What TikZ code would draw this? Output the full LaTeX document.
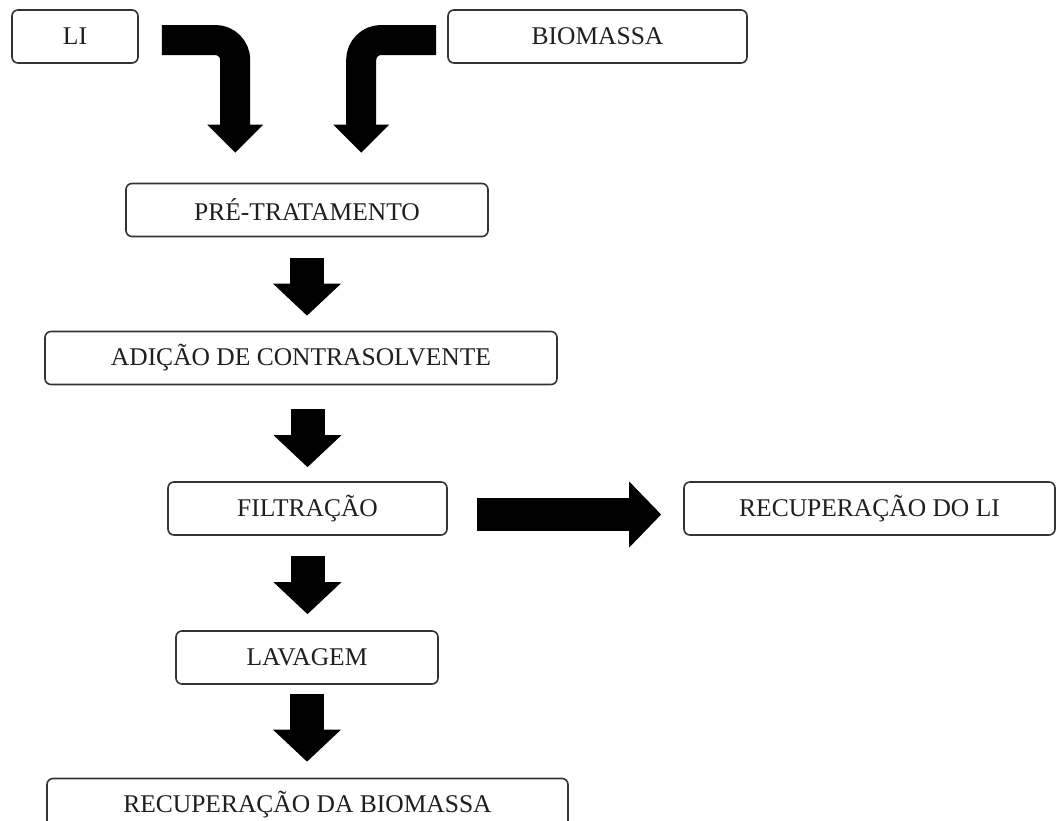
\documentclass[tikz,border=0pt]{standalone}
\usepackage{fontspec}
\setmainfont{Liberation Serif}
\usetikzlibrary{arrows.meta,calc}
\begin{document}
\begin{tikzpicture}[x=1pt,y=-1pt,
  box/.style={draw=black!80, line width=1.6pt, rounded corners=6pt, fill=white,
    inner sep=0pt, minimum height=53pt,
    font=\fontsize{25.5}{30}\selectfont, text=black!88},
  blockdown/.style={line width=34pt, -{Triangle[length=32pt,width=66pt]}},
  blockright/.style={line width=33pt, -{Triangle[length=32pt,width=64pt]}},
  bent/.style={line width=30pt, rounded corners=20pt,
    -{Triangle[length=28pt,width=54pt]}}
]
\clip (0,0) rectangle (1057,820);
\fill[white] (0,0) rectangle (1057,820);

% process steps
\node[box, minimum width=126pt] (li)   at (75,36.5)    {LI};
\node[box, minimum width=299pt] (bio)  at (597.5,36.5) {BIOMASSA};
\node[box, minimum width=362pt] (pre)  at (307,210)    {PRÉ-TRATAMENTO};
\node[box, minimum width=512pt] (adi)  at (301,358)    {ADIÇÃO DE CONTRASOLVENTE};
\node[box, minimum width=279pt] (fil)  at (307.5,508.5) {FILTRAÇÃO};
\node[box, minimum width=371pt] (rli)  at (869.5,508.5) {RECUPERAÇÃO DO LI};
\node[box, minimum width=262pt] (lav)  at (307,657.5)  {LAVAGEM};
\node[box, minimum width=521pt] (rbio) at (307.5,805)  {RECUPERAÇÃO DA BIOMASSA};

% inputs bending down into the pre-treatment
\coordinate (inL) at ([xshift=110pt]pre.north west);
\coordinate (inR) at ([xshift=236pt]pre.north west);
\draw[bent, shorten <=23pt, shorten >=30pt] ([yshift=-3.5pt]li.east) -| (inL);
\draw[bent, shorten <=11pt, shorten >=30pt] ([yshift=-3.5pt]bio.west) -| (inR);

% main sequence
\draw[blockdown, shorten <=21pt, shorten >=15pt] (pre.south) -- (pre.south |- adi.north);
\draw[blockdown, shorten <=24pt, shorten >=14pt] (fil.north |- adi.south) -- (fil.north);
\draw[blockdown, shorten <=20pt, shorten >=16pt] (fil.south) -- (fil.south |- lav.north);
\draw[blockdown, shorten <=9pt, shorten >=16pt] (lav.south) -- (lav.south |- rbio.north);

% side branch
\draw[blockright, shorten <=29pt, shorten >=22pt] ([yshift=-6pt]fil.east) -- ([yshift=-6pt]rli.west);
\end{tikzpicture}
\end{document}
